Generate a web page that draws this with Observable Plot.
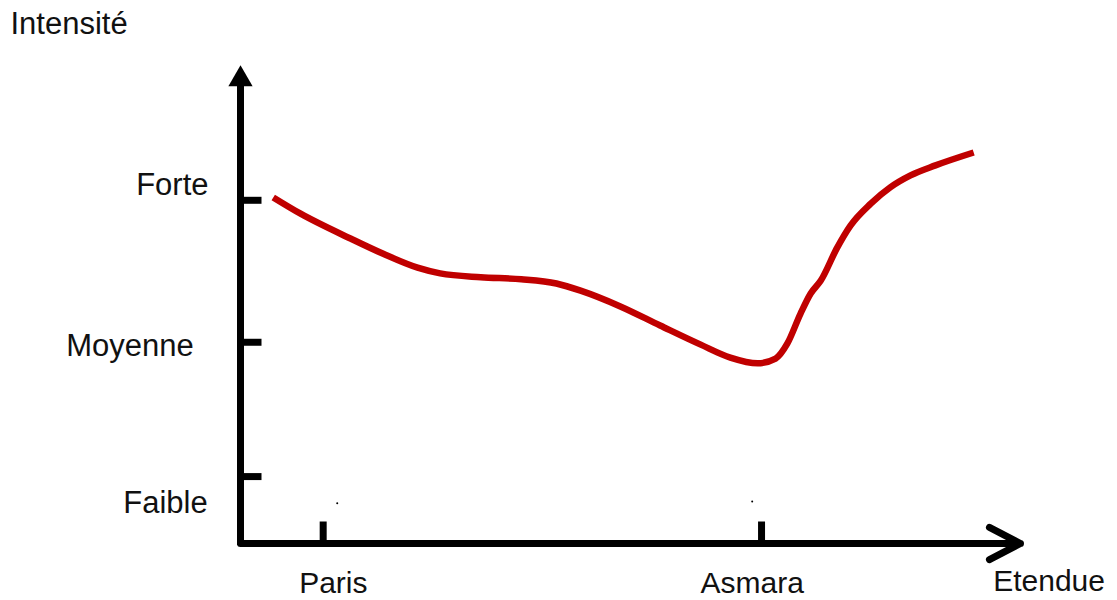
<!DOCTYPE html>
<html>
<head>
<meta charset="utf-8">
<script src="https://cdn.jsdelivr.net/npm/d3@7"></script>
<script src="https://cdn.jsdelivr.net/npm/@observablehq/plot@0.6"></script>
<style>
  html, body { margin: 0; padding: 0; background: #fff; }
  #chart svg { display: block; font-family: "Liberation Sans", Arial, sans-serif; }
</style>
</head>
<body>
<div id="chart"></div>
<script>
// Curve (Etendue 0-100, Intensité 0-100)
const curveX = [4.2, 7.7, 14.1, 18.3, 22.7, 25.6, 30.8, 36.0, 40.5, 43.6, 48.7, 53.8, 59.0, 62.8, 66.3, 68.6, 70.1, 71.8, 73.1, 74.4, 76.5, 78.2, 80.8, 83.3, 85.9, 89.1, 94.0];
const curveY = [72.4, 69.0, 63.8, 60.6, 57.7, 56.5, 55.7, 55.3, 54.4, 52.9, 49.6, 45.6, 41.6, 38.9, 37.7, 38.7, 41.8, 48.1, 52.3, 55.0, 61.9, 66.5, 71.1, 74.5, 77.0, 79.1, 81.8];

// Y tick marks and labels
const yTicks = [14.0, 42.1, 71.8];
const yLabels = ["Faible", "Moyenne", "Forte"];
const yLabelY = [8.4, 41.4, 74.9];
const yLabelX = [-4.2, -6.0, -4.1];

// X tick marks and labels
const xTicks = [10.6, 66.8];
const xLabels = ["Paris", "Asmara"];
const xLabelX = [11.9, 65.6];
const xLabelY = [-8.4, -8.4];

const xTitle = "Etendue";
const xTitlePos = [96.5, -8.0];
const yTitle = "Intensité";

// stray specks in the original
const specksX = [12.4, 65.6];
const specksY = [8.4, 8.8];

const curve = curveX.map((x, i) => ({x, y: curveY[i]}));
const yLab = yLabels.map((t, i) => ({t, x: yLabelX[i], y: yLabelY[i]}));
const xLab = xLabels.map((t, i) => ({t, x: xLabelX[i], y: xLabelY[i]}));
const specks = specksX.map((x, i) => ({x, y: specksY[i]}));

const stub = {draw(context, l) { context.moveTo(0, 0); context.lineTo(0, -l); }};

const chart = Plot.plot({
  width: 1117,
  height: 600,
  marginLeft: 240,
  marginRight: 97,
  marginTop: 65,
  marginBottom: 57,
  x: {domain: [0, 100], axis: null},
  y: {domain: [0, 100], axis: null},
  style: {background: "#fff", fontFamily: "Liberation Sans, Arial, sans-serif"},
  marks: [
    // y axis line + filled arrowhead
    Plot.ruleX([0], {y1: -0.4, y2: 97, stroke: "black", strokeWidth: 7}),
    Plot.dot([{x: 0, y: 97.1}], {x: "x", y: "y", symbol: "triangle", r: 9, fill: "black", stroke: null}),
    // x axis arrow
    Plot.arrow([{x1: 0, x2: 100, y: 0}], {x1: "x1", x2: "x2", y1: "y", y2: "y", stroke: "black", strokeWidth: 7, headAngle: 55, headLength: 7.5, strokeLinecap: "round"}),
    // tick stubs
    Plot.vector(yTicks, {x: () => 0, y: d => d, length: 21, rotate: 90, anchor: "start", shape: stub, stroke: "black", strokeWidth: 7, strokeLinecap: "butt"}),
    Plot.vector(xTicks, {x: d => d, y: () => 0, length: 22, rotate: 0, anchor: "start", shape: stub, stroke: "black", strokeWidth: 7, strokeLinecap: "butt"}),
    // specks
    Plot.dot(specks, {x: "x", y: "y", r: 1, fill: "black", stroke: null}),
    // curve
    Plot.line(curve, {x: "x", y: "y", curve: "monotone-x", stroke: "#c00000", strokeWidth: 6.5, strokeLinecap: "butt"}),
    // labels
    Plot.text(yLab, {x: "x", y: "y", text: "t", textAnchor: "end", fontSize: 31, fill: "#111"}),
    Plot.text(xLab, {x: "x", y: "y", text: "t", textAnchor: "middle", fontSize: 30, fill: "#111"}),
    Plot.text([xTitle], {x: () => xTitlePos[0], y: () => xTitlePos[1], text: d => d, textAnchor: "start", fontSize: 30, fill: "#111"}),
    Plot.text([yTitle], {frameAnchor: "top-left", lineAnchor: "middle", text: d => d, textAnchor: "start", dx: -230, dy: -41, fontSize: 31, fill: "#111"})
  ]
});
document.getElementById("chart").append(chart);
</script>
</body>
</html>
